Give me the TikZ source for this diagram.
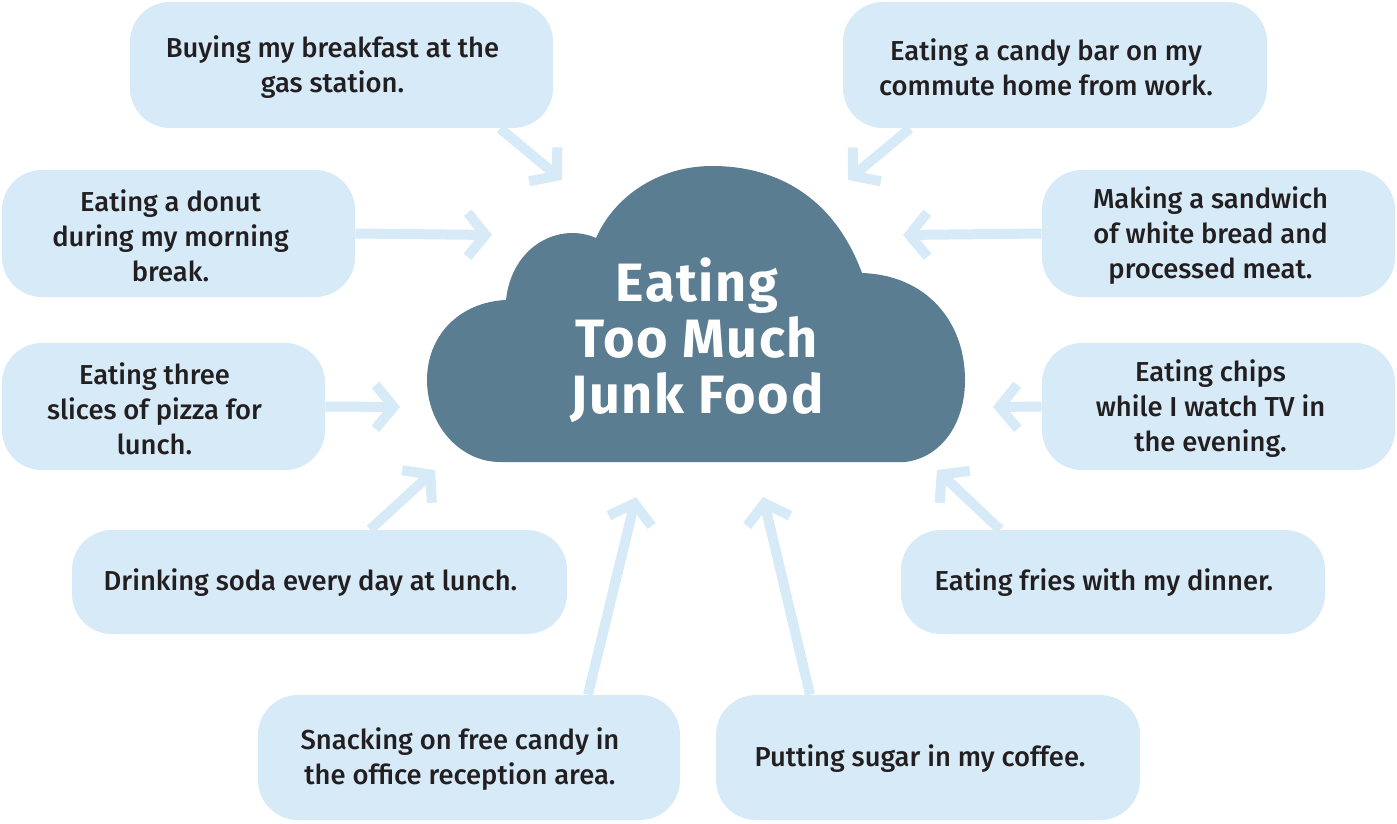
\documentclass[tikz,border=0pt]{standalone}
\usepackage{fontspec}
\setmainfont{Fira Sans}
\newfontfamily\medfont{Fira Sans Medium}
\newfontfamily\headfont{Fira Sans}[LetterSpace=3]
\usetikzlibrary{arrows.meta,calc}
\definecolor{boxblue}{HTML}{D6EAF8}
\definecolor{cloudcol}{HTML}{5A7D91}
\definecolor{txt}{HTML}{231F20}
\begin{document}
\begin{tikzpicture}[x=0.5pt,y=-0.5pt,
  box/.style={fill=boxblue, draw=none, rounded corners=20pt, inner sep=0pt},
  lbl/.style={align=center, text=txt, font=\medfont\fontsize{13.7}{17.5}\selectfont, inner sep=0pt},
  arr/.style={draw=boxblue, line width=5pt, -{Straight Barb[length=9pt,width=22pt]}}]
\useasboundingbox (0,0) rectangle (1397,824);
% boxes: centre, width, height in px
\node[box, minimum width=211.5pt, minimum height=63pt] (b1) at (341.5,65) {};
\node[box, minimum width=212pt, minimum height=63pt] (b2) at (1055,65) {};
\node[box, minimum width=176.5pt, minimum height=63.5pt] (b3) at (178.5,233.5) {};
\node[box, minimum width=176.5pt, minimum height=63.5pt] (b4) at (1218.5,233.5) {};
\node[box, minimum width=161.5pt, minimum height=63.5pt] (b5) at (163.5,406.5) {};
\node[box, minimum width=176.5pt, minimum height=63.5pt] (b6) at (1218.5,406.5) {};
\node[box, minimum width=247.5pt, minimum height=52pt] (b7) at (319.5,582) {};
\node[box, minimum width=212pt, minimum height=52pt] (b8) at (1113,582) {};
\node[box, minimum width=211pt, minimum height=62.5pt] (b9) at (469,757.5) {};
\node[box, minimum width=212pt, minimum height=62.5pt] (b10) at (928,757.5) {};
% texts
\node[lbl] (t1) at ($(b1)+(-9,2)$) {Buying my breakfast at the\\gas station.};
\node[lbl] (t2) at ($(b2)+(-9,2)$) {Eating a candy bar on my\\commute home from work.};
\node[lbl] (t3) at ($(b3)+(-8,2)$) {Eating a donut\\during my morning\\break.};
\node[lbl] (t4) at ($(b4)+(-8,2)$) {Making a sandwich\\of white bread and\\processed meat.};
\node[lbl] (t5) at ($(b5)+(-9,2)$) {Eating three\\slices of pizza for\\lunch.};
\node[lbl] (t6) at ($(b6)+(-8,2)$) {Eating chips\\while I watch TV in\\the evening.};
\node[lbl] (t7) at ($(b7)+(-9,1)$) {Drinking soda every day at lunch.};
\node[lbl] (t8) at ($(b8)+(-9,1)$) {Eating fries with my dinner.};
\node[lbl] (t9) at ($(b9)+(-9,2)$) {Snacking on free candy in\\the office reception area.};
\node[lbl] (t10) at ($(b10)+(-8,1)$) {Putting sugar in my coffee.};
% cloud
\fill[cloudcol] (500,462) -- (905,462)
  .. controls (940,458) and (965,425) .. (965,380)
  .. controls (965,320) and (925,275) .. (862,273)
  .. controls (835,200) and (780,166) .. (712,166)
  .. controls (660,166) and (615,195) .. (596,238)
  .. controls (560,222) and (512,245) .. (506,300)
  .. controls (460,302) and (427,335) .. (427,380)
  .. controls (427,425) and (460,462) .. (500,462) -- cycle;
\node[text=white, align=center, font=\headfont\fontsize{27}{28}\selectfont\bfseries, inner sep=0pt] (c) at (697,340) {Eating\\Too Much\\Junk Food};
% arrow ends
\coordinate (s1) at ($(b1.south)+(158.5,0)$); \coordinate (e1) at (562,180);
\coordinate (s2) at ($(b2.south)+(-145,0)$); \coordinate (e2) at (848,180);
\coordinate (e3) at (492,235);
\coordinate (e4) at (903,235);
\coordinate (e5) at (400,407);
\coordinate (e6) at (993,407);
\coordinate (s7) at ($(b7.north)+(50.5,0)$); \coordinate (e7) at (435,470);
\coordinate (s8) at ($(b8.north)+(-113,0)$); \coordinate (e8) at (937,470);
\coordinate (s9) at ($(b9.north)+(119,0)$); \coordinate (e9) at (636,497);
\coordinate (s10) at ($(b10.north)+(-118,0)$); \coordinate (e10) at (763,497);
\draw[arr] (s1) -- (e1);
\draw[arr] (s2) -- (e2);
\draw[arr] (b3.east) -- (e3);
\draw[arr] (b4.west) -- (e4);
\draw[arr] (b5.east) -- (e5);
\draw[arr] (b6.west) -- (e6);
\draw[arr] (s7) -- (e7);
\draw[arr] (s8) -- (e8);
\draw[arr] (s9) -- (e9);
\draw[arr] (s10) -- (e10);
\end{tikzpicture}
\end{document}
